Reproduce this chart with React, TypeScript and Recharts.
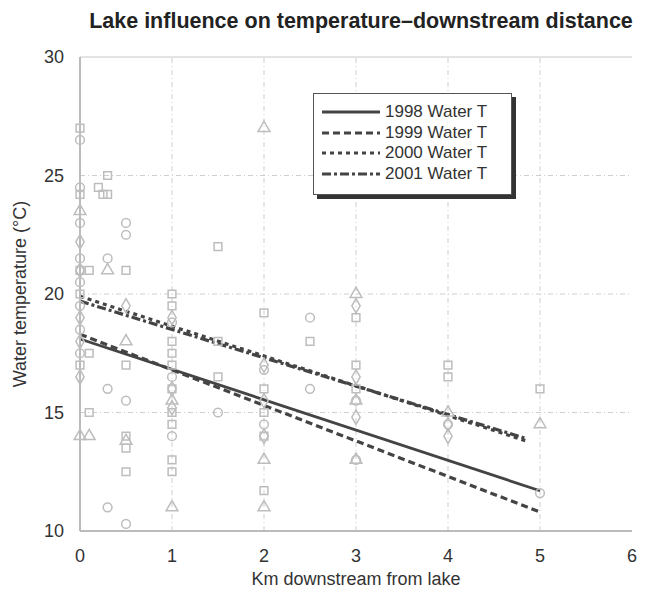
import {
  ComposedChart, Scatter, Line, XAxis, YAxis, ZAxis, ReferenceLine,
} from 'recharts';

// scatter observations (km, °C)
const obs1998 = [
  [0, 26.5], [0, 24.5], [0, 23], [0, 21.5], [0, 20.5], [0, 19.5], [0, 18.5], [0, 17.5],
  [0.3, 21.5], [0.3, 16], [0.3, 11], [0.5, 23], [0.5, 22.5], [0.5, 15.5], [0.5, 10.3],
  [1, 18.8], [1, 16.5], [1, 14], [1.5, 15], [2, 16.8], [2, 14.5], [2.5, 19], [2.5, 16],
  [3, 13], [3, 15.5], [4, 14.5], [5, 11.6],
];
const obs1999 = [
  [0, 22.2], [0, 21], [0, 19], [0, 18], [0, 16.5], [0.5, 19.5], [1, 19], [1, 16], [1, 15.2],
  [2, 17], [2, 15.5], [2, 14], [3, 19.5], [3, 14.8], [3, 16.5], [4, 14], [4, 14.5],
];
const obs2000 = [
  [0, 23.5], [0, 14], [0.1, 14], [0.3, 21], [0.5, 18], [0.5, 13.8], [1, 11], [1, 15.5],
  [2, 27], [2, 11], [2, 13], [3, 20], [3, 15.5], [3, 13], [4, 15], [5, 14.5],
];
const obs2001 = [
  [0, 27], [0, 24.2], [0, 21], [0, 20], [0, 17], [0.1, 21], [0.1, 17.5], [0.1, 15],
  [0.2, 24.5], [0.25, 24.2], [0.3, 25], [0.3, 24.2], [0.5, 21], [0.5, 17], [0.5, 14],
  [0.5, 13.5], [0.5, 12.5], [1, 20], [1, 19.5], [1, 18], [1, 17.5], [1, 17], [1, 16],
  [1, 15], [1, 14.5], [1, 13], [1, 12.5], [1.5, 22], [1.5, 18], [1.5, 16.5], [2, 19.2],
  [2, 16], [2, 15], [2, 14], [2, 11.7], [2.5, 18], [3, 19], [3, 17], [3, 16], [4, 17],
  [4, 16.5], [5, 16],
];

// trend lines (start / end)
const trend1998 = [[0, 18.1], [5, 11.7]];
const trend1999 = [[0, 18.3], [5, 10.8]];
const trend2000 = [[0, 19.9], [4.85, 13.8]];
const trend2001 = [[0, 19.7], [4.85, 13.9]];

const xTicks = [0, 1, 2, 3, 4, 5, 6];
const yTicks = [10, 15, 20, 25, 30];
const xGrid = [1, 2, 3, 4, 5];
const yGrid = [15, 20, 25];

const toPts = (arr: number[][]) => arr.map(([x, y]) => ({ x, y }));

const FONT = '"Liberation Sans", Arial, sans-serif';
const MARK = '#bdbdbd';
const LINE = '#444';

const series = [
  { name: '1998 Water T', data: trend1998, dash: undefined, width: 2.8 },
  { name: '1999 Water T', data: trend1999, dash: '7 4', width: 3.2 },
  { name: '2000 Water T', data: trend2000, dash: '4 4', width: 3.2 },
  { name: '2001 Water T', data: trend2001, dash: '9 3 3 3', width: 3.2 },
];

const LegendBox = () => (
  <div style={{ position: 'absolute', left: 313, top: 93, width: 203, height: 106 }}>
    <div style={{ position: 'absolute', left: 4, top: 4, width: 199, height: 102, background: '#333' }} />
    <div style={{
      position: 'absolute', left: 0, top: 0, width: 197, height: 100,
      background: '#fff', border: '1px solid #555',
    }}>
      {series.map((s, i) => (
        <div key={s.name} style={{ position: 'absolute', left: 8, top: 10 + i * 20.5, display: 'flex', alignItems: 'center' }}>
          <svg width={58} height={12}>
            <line x1={0} y1={6} x2={58} y2={6} stroke={LINE} strokeWidth={s.width} strokeDasharray={s.dash} />
          </svg>
          <span style={{ marginLeft: 5, fontSize: 17, color: '#333', fontFamily: FONT, lineHeight: '16px' }}>{s.name}</span>
        </div>
      ))}
    </div>
  </div>
);

export default function App() {
  return (
    <div style={{ position: 'absolute', left: 0, top: 0, width: 647, height: 589, background: '#fff' }}>
      <div style={{
        position: 'absolute', left: 85, top: 9, width: 552, textAlign: 'center',
        fontFamily: FONT, fontWeight: 'bold', fontSize: 21.5, color: '#222', whiteSpace: 'nowrap',
      }}>
        Lake influence on temperature–downstream distance
      </div>
      <ComposedChart width={647} height={589} margin={{ top: 57, right: 15, bottom: 0, left: 0 }}>
        <XAxis
          type="number" dataKey="x" domain={[0, 6]} ticks={xTicks} interval={0}
          axisLine={{ stroke: '#bbb', strokeWidth: 2 }} tickLine={false} tickMargin={12} height={58}
          tick={{ fill: '#333', fontSize: 18, fontFamily: FONT }}
          label={{ value: 'Km downstream from lake', position: 'insideBottom', offset: 4, fill: '#333', fontSize: 18, fontFamily: FONT }}
        />
        <YAxis
          type="number" dataKey="y" domain={[10, 30]} ticks={yTicks} interval={0}
          axisLine={{ stroke: '#bbb', strokeWidth: 2 }} tickLine={false} tickMargin={10} width={80}
          tick={{ fill: '#333', fontSize: 18, fontFamily: FONT }}
          label={{ value: 'Water temperature (°C)', angle: -90, position: 'insideLeft', offset: 20, fill: '#333', fontSize: 18, fontFamily: FONT, style: { textAnchor: 'middle' } }}
        />
        <ZAxis range={[60, 60]} />
        {xGrid.map(v => (
          <ReferenceLine key={'x' + v} x={v} stroke="#cfcfcf" strokeDasharray="5 3 1 3" />
        ))}
        {yGrid.map(v => (
          <ReferenceLine key={'y' + v} y={v} stroke="#cfcfcf" strokeDasharray="5 3 1 3" />
        ))}
        <ReferenceLine y={30} stroke="#c8c8c8" />
        <Scatter data={toPts(obs1998)} shape="circle" fill="none" stroke={MARK} strokeWidth={1.5} isAnimationActive={false} />
        <Scatter data={toPts(obs1999)} shape="diamond" fill="none" stroke={MARK} strokeWidth={1.5} isAnimationActive={false} />
        <Scatter data={toPts(obs2000)} shape="triangle" fill="none" stroke={MARK} strokeWidth={1.5} isAnimationActive={false} />
        <Scatter data={toPts(obs2001)} shape="square" fill="none" stroke={MARK} strokeWidth={1.5} isAnimationActive={false} />
        {series.map(s => (
          <Line
            key={s.name} data={toPts(s.data)} dataKey="y" type="linear" stroke={LINE}
            strokeWidth={s.width} strokeDasharray={s.dash} dot={false} activeDot={false}
            isAnimationActive={false} legendType="none"
          />
        ))}
      </ComposedChart>
      <LegendBox />
    </div>
  );
}
